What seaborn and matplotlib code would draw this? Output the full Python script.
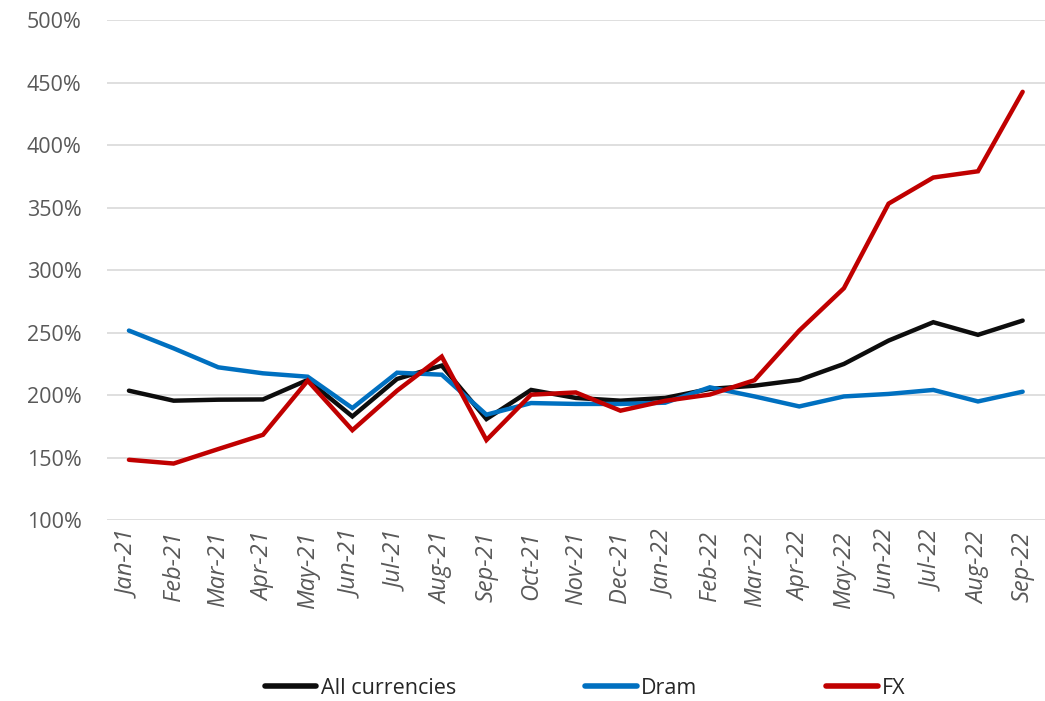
import matplotlib
matplotlib.use("Agg")
import matplotlib.pyplot as plt
import seaborn as sns
import pandas as pd
from matplotlib.ticker import FuncFormatter
from matplotlib.lines import Line2D

months = ["Jan-21", "Feb-21", "Mar-21", "Apr-21", "May-21", "Jun-21", "Jul-21",
          "Aug-21", "Sep-21", "Oct-21", "Nov-21", "Dec-21", "Jan-22", "Feb-22",
          "Mar-22", "Apr-22", "May-22", "Jun-22", "Jul-22", "Aug-22", "Sep-22"]

all_currencies = [203.6, 195.6, 196.4, 196.6, 212.2, 183.0, 213.0, 223.7, 180.9,
                  204.2, 197.8, 195.6, 197.8, 205.0, 207.6, 212.2, 225.0, 243.7,
                  258.4, 248.3, 259.7]
dram = [251.7, 237.5, 222.3, 217.5, 214.8, 189.7, 218.0, 216.4, 184.4, 193.7,
        193.0, 193.0, 194.0, 206.3, 199.0, 191.0, 199.0, 201.0, 204.2, 195.0, 202.8]
fx = [148.3, 145.3, 156.9, 168.3, 211.6, 172.0, 203.6, 230.9, 164.1, 200.4,
      202.2, 187.6, 195.5, 200.5, 212.0, 251.7, 285.6, 353.3, 374.2, 379.2, 442.8]

series_names = ["All currencies", "Dram", "FX"]
colors = ["#0D0D0D", "#0070C0", "#C00000"]

rows = []
for name, vals in zip(series_names, [all_currencies, dram, fx]):
    for i, v in enumerate(vals):
        rows.append({"idx": i, "value": v, "series": name})
df = pd.DataFrame(rows)

sns.set_theme(style="white")
plt.rcParams["font.family"] = ["Open Sans", "DejaVu Sans"]

fig = plt.figure(figsize=(10.45, 7.01), dpi=100)
ax = fig.add_axes([0.102, 0.258, 0.898, 0.713])

sns.lineplot(data=df, x="idx", y="value", hue="series", hue_order=series_names,
             palette=colors, linewidth=3.2, sort=False, ax=ax, legend=False,
             solid_capstyle="round", solid_joinstyle="miter")

ax.set_ylim(100, 500)
ax.set_yticks(range(100, 501, 50))
ax.yaxis.set_major_formatter(FuncFormatter(lambda v, p: f"{int(v)}%"))
ax.set_xlim(-0.5, len(months) - 0.5)
ax.set_xticks(range(len(months)))
ax.set_xticklabels(months, rotation=90, style="italic")
ax.tick_params(axis="y", labelsize=15.5, colors="#595959", length=0, pad=18)
ax.tick_params(axis="x", labelsize=17, colors="#595959", length=0, pad=8)
ax.set_xlabel("")
ax.set_ylabel("")
ax.grid(axis="y", color="#D9D9D9", linewidth=1.2)
ax.set_axisbelow(True)
for s in ax.spines.values():
    s.set_visible(False)

handles = [Line2D([0], [0], color=c, linewidth=4, solid_capstyle="round") for c in colors]
fig.legend(handles, series_names, loc="center", bbox_to_anchor=(0.56, 0.018),
           ncol=3, frameon=False, fontsize=15.5, handlelength=2.4, columnspacing=6.0,
           handletextpad=0.2, labelcolor="#262626")

fig.savefig("out.png", dpi=100)
